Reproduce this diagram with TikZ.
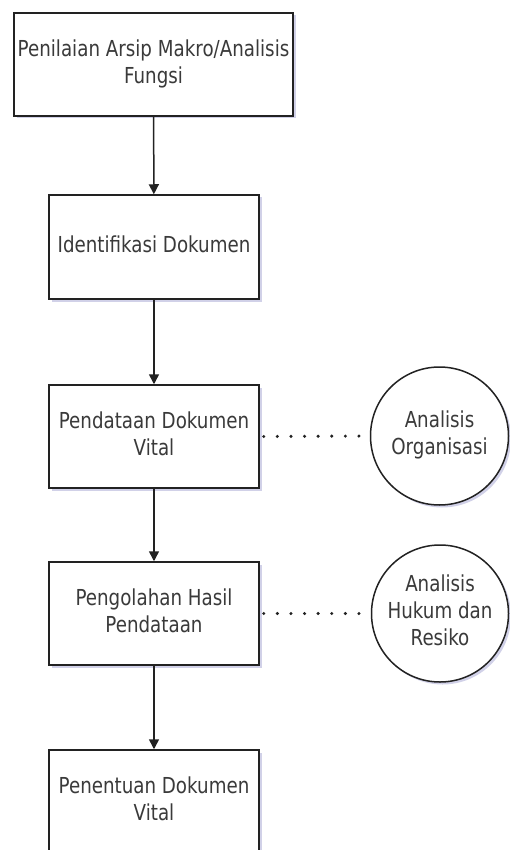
\documentclass[tikz,border=0pt]{standalone}
\usepackage{fontspec}
\setmainfont{DejaVu Sans}
\usepackage{graphicx}
\usetikzlibrary{shadows,arrows.meta}
\definecolor{txtc}{HTML}{3A3A3A}
\definecolor{edgec}{HTML}{222222}
\newcommand\tx[1]{\scalebox{0.83}[1]{\begin{tabular}{@{}c@{}}#1\end{tabular}}}
\tikzset{
  procbox/.style={draw=edgec, line width=1.5pt, fill=white, inner sep=0pt,
    text=txtc, font=\fontsize{22}{27}\selectfont,
    drop shadow={shadow xshift=2.5pt, shadow yshift=-2.5pt, fill=black!50!blue, opacity=0.18}},
  circnode/.style={procbox, circle},
  flow/.style={draw=edgec, line width=1.5pt, -{Triangle[length=10pt,width=10pt]}},
  dotline/.style={draw=edgec, line width=3.4pt, line cap=round, dash pattern=on 0pt off 13.6pt}
}
\begin{document}
\begin{tikzpicture}[x=1pt,y=-1pt]
\useasboundingbox (0,0) rectangle (510,850);
\clip (0,0) rectangle (510,850);
\node[procbox, minimum width=279pt, minimum height=103pt] (b1) at (153.5,64.5) {\tx{Penilaian Arsip Makro/Analisis\\Fungsi}};
\node[procbox, minimum width=210pt, minimum height=104pt] (b2) at (154,247) {\tx{Identifikasi Dokumen}};
\node[procbox, minimum width=210pt, minimum height=103pt] (b3) at (154,436.5) {\tx{Pendataan Dokumen\\Vital}};
\node[procbox, minimum width=210pt, minimum height=103pt] (b4) at (154,613.5) {\tx{Pengolahan Hasil\\Pendataan}};
\node[procbox, minimum width=210pt, minimum height=103pt] (b5) at (154,801.5) {\tx{Penentuan Dokumen\\Vital}};
\node[circnode, minimum size=138pt] (c1) at (439.5,436) {\tx{Analisis\\Organisasi}};
\node[circnode, minimum size=137pt] (c2) at (440,613.5) {\tx{Analisis\\Hukum dan\\Resiko}};
\draw[flow] (b1) -- (b2);
\draw[flow] (b2) -- (b3);
\draw[flow] (b3) -- (b4);
\draw[flow] (b4) -- (b5);
\draw[dotline] ([xshift=4pt]b3.east) -- (c1.west);
\draw[dotline] ([xshift=4pt]b4.east) -- (c2.west);
\end{tikzpicture}
\end{document}
